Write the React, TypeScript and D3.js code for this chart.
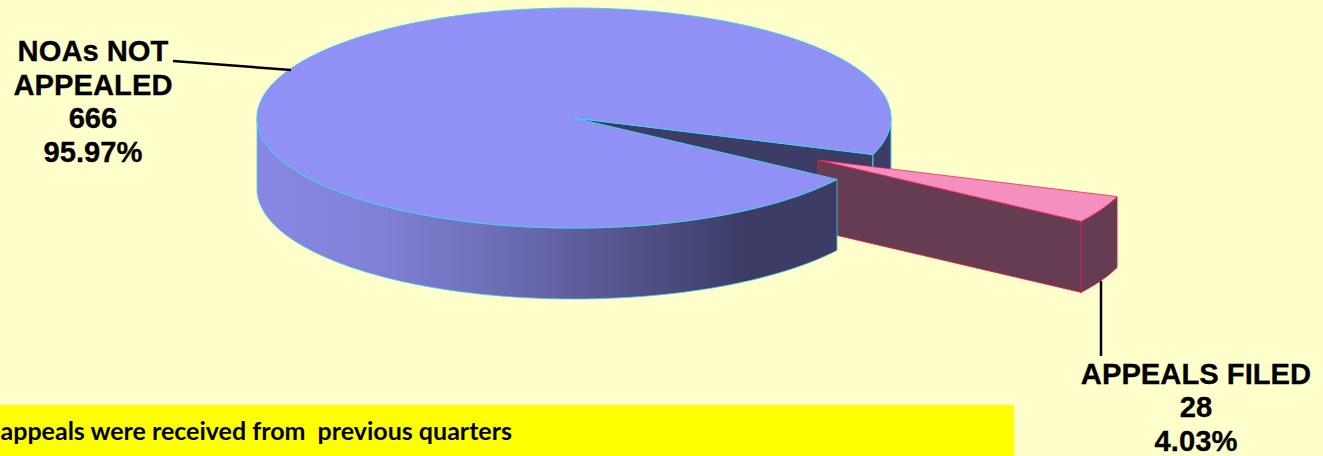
import React from "react";
import * as d3 from "d3";

const categories = ["APPEALS FILED", "NOAs NOT APPEALED"];
const counts = [28, 666];
const percents = ["4.03%", "95.97%"];
const noteText = "appeals were received from  previous quarters";

const WIDTH = 1323;
const HEIGHT = 456;
const DEPTH = 71;
const rad = (deg: number) => (deg * Math.PI) / 180;

// Unit-circle coordinates projected on to the tilted pie's ellipse.
const sx = d3.scaleLinear().domain([-1, 1]).range([257, 891]);
const sy = d3.scaleLinear().domain([-1, 1]).range([8, 228]);

const slices = d3
  .pie<number>()
  .sort(null)
  .startAngle(rad(109.4))
  .endAngle(rad(109.4 + 360))(counts);

const [filed, notAppealed] = slices;
const EXPLODE_X = 0.77;
const EXPLODE_Y = 0.382;

type Pt = [number, number];
const rim = (a: number, ox = 0, oy = 0, dy = 0): Pt => [
  sx(Math.sin(a) + ox),
  sy(-Math.cos(a) + oy) + dy,
];
const arcAngles = (a: number, b: number) => {
  const n = Math.max(2, Math.ceil(Math.abs(b - a) / rad(1)));
  return d3.range(n + 1).map((i) => a + ((b - a) * i) / n);
};
const line = d3.line<Pt>();
const closed = (pts: Pt[]) => (line(pts) as string) + "Z";

const band = (a: number, b: number, ox = 0, oy = 0) => {
  const angles = arcAngles(a, b);
  return closed([
    ...angles.map((t) => rim(t, ox, oy)),
    ...angles.slice().reverse().map((t) => rim(t, ox, oy, DEPTH)),
  ]);
};
const sector = (a: number, b: number, ox = 0, oy = 0) =>
  closed([[sx(ox), sy(oy)], ...arcAngles(a, b).map((t) => rim(t, ox, oy))]);

const BLUE_EDGE = "#3fd3ea";
const RED_EDGE = "#ec1f44";
const LABEL_FONT = "'Liberation Sans', Arial, sans-serif";

function Label({ x, y, lines }: { x: number; y: number; lines: string[] }) {
  return (
    <text
      x={x}
      y={y}
      textAnchor="middle"
      fontFamily={LABEL_FONT}
      fontWeight="bold"
      fontSize={29.2}
      fill="#000"
      stroke="#000"
      strokeWidth={0.3}
    >
      {lines.map((l, i) => (
        <tspan key={i} x={x} y={y + i * 33.6}>
          {l}
        </tspan>
      ))}
    </text>
  );
}

export default function App() {
  const blueStart = notAppealed.startAngle;
  const blueEnd = notAppealed.endAngle;
  const endPt = rim(blueEnd);
  const sliceCorner = rim(filed.endAngle, EXPLODE_X, EXPLODE_Y);
  return (
    <svg
      width={WIDTH}
      height={HEIGHT}
      viewBox={`0 0 ${WIDTH} ${HEIGHT}`}
      style={{ position: "fixed", left: 0, top: 0, display: "block" }}
    >
      <defs>
        <linearGradient
          id="wallShade"
          gradientUnits="userSpaceOnUse"
          x1={sx(-1)}
          x2={745}
          y1={0}
          y2={0}
        >
          <stop offset="0" stopColor="#8888e4" />
          <stop offset="0.25" stopColor="#8080d6" />
          <stop offset="0.5" stopColor="#6d6db6" />
          <stop offset="1" stopColor="#3c3c66" />
        </linearGradient>
      </defs>
      <rect width={WIDTH} height={HEIGHT} fill="#ffffcc" />

      {/* Cut face and right-hand rim behind the pulled-out slice */}
      <path
        d={closed([
          [sx(0), sy(0)],
          endPt,
          [endPt[0], endPt[1] + DEPTH],
          [sx(0), sy(0) + DEPTH],
        ])}
        fill="#3c3c66"
        stroke={BLUE_EDGE}
        strokeWidth={1}
      />
      <path
        d={band(rad(90), blueEnd - rad(360))}
        fill="#3c3c66"
        stroke={BLUE_EDGE}
        strokeWidth={1}
      />

      {/* Pulled-out slice */}
      <g stroke={RED_EDGE} strokeWidth={0.75} strokeLinejoin="round">
        <path
          d={closed([
            [sx(EXPLODE_X), sy(EXPLODE_Y)],
            rim(filed.endAngle, EXPLODE_X, EXPLODE_Y),
            rim(filed.endAngle, EXPLODE_X, EXPLODE_Y, DEPTH),
            [sx(EXPLODE_X), sy(EXPLODE_Y) + DEPTH],
          ])}
          fill="#663c52"
        />
        <path
          d={band(filed.startAngle, filed.endAngle, EXPLODE_X, EXPLODE_Y)}
          fill="#663c52"
        />
        <path
          d={line([sliceCorner, [sliceCorner[0], sliceCorner[1] + DEPTH]]) as string}
          stroke="#a03048"
          fill="none"
        />
        <path
          d={sector(filed.startAngle, filed.endAngle, EXPLODE_X, EXPLODE_Y)}
          fill="#f48fbf"
        />
      </g>

      {/* Main body of the pie */}
      <path
        d={band(blueStart, rad(270))}
        fill="url(#wallShade)"
        stroke={BLUE_EDGE}
        strokeWidth={0.8}
      />
      <path
        d={sector(blueStart, blueEnd)}
        fill="#9090f5"
        stroke={BLUE_EDGE}
        strokeWidth={1}
        strokeLinejoin="round"
      />

      {/* Leader lines */}
      <g stroke="#000" strokeWidth={2.5} fill="none">
        <path d={line([[173, 61], [291, 70]]) as string} />
        <path d={line([[1101, 281], [1101, 356]]) as string} />
      </g>

      <Label
        x={93}
        y={61}
        lines={["NOAs NOT", "APPEALED", String(counts[1]), percents[1]]}
      />
      <Label
        x={1196}
        y={383.5}
        lines={[categories[0], String(counts[0]), percents[0]]}
      />

      {/* Footnote band */}
      <rect x={0} y={405} width={1014} height={51} fill="#ffff00" />
      <text
        x={512}
        y={440}
        textAnchor="end"
        fontFamily="Lato, 'Open Sans', sans-serif"
        fontWeight="bold"
        fontSize={25}
        fill="#000"
        style={{ whiteSpace: "pre" }}
      >
        {noteText}
      </text>
    </svg>
  );
}
